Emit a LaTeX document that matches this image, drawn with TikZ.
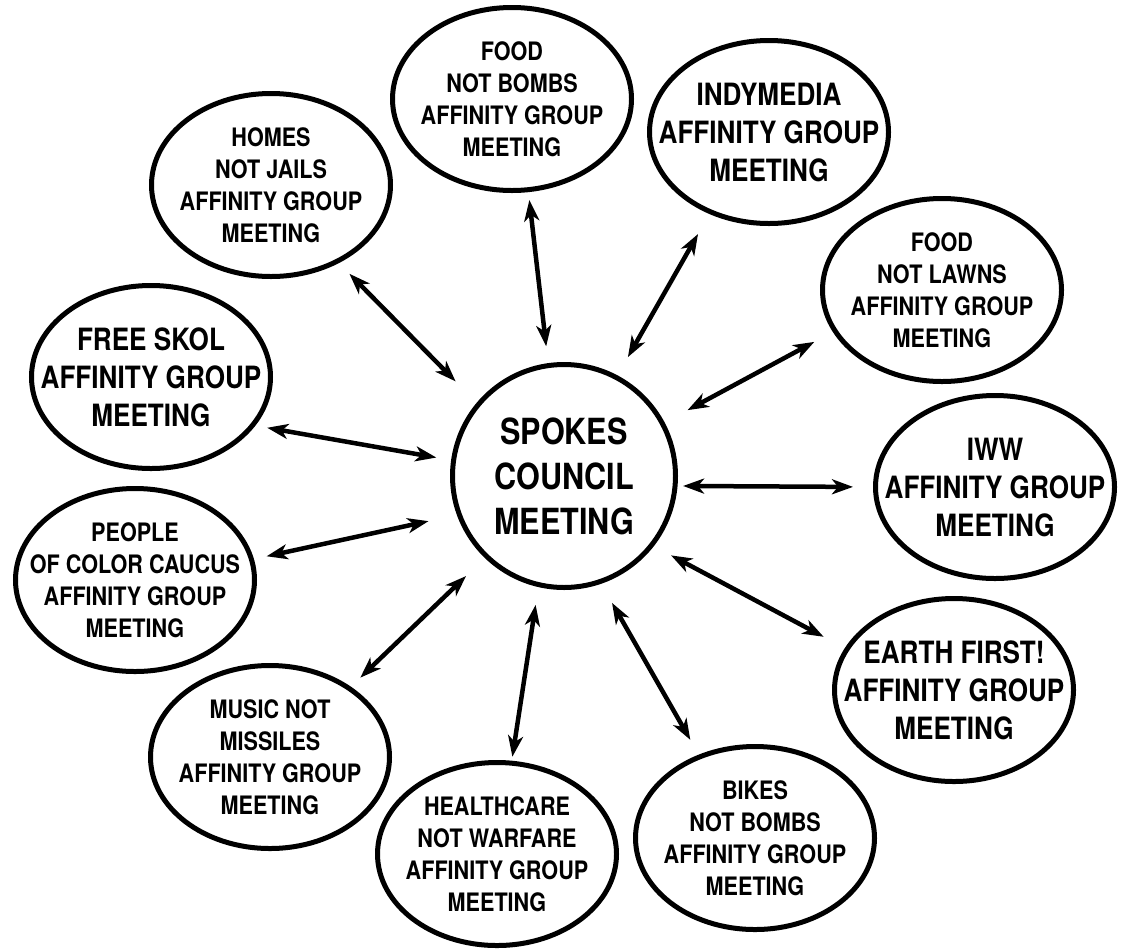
\documentclass[tikz,border=0pt]{standalone}
\usepackage{fontspec}
\setmainfont{TeX Gyre Heros}[FakeStretch=0.85]
\usetikzlibrary{shapes.geometric, arrows.meta}

\begin{document}
\begin{tikzpicture}[x=1pt, y=-1pt,
    group/.style={draw, ellipse, line width=5pt, minimum width=239pt, minimum height=183pt,
        inner xsep=-40pt, inner ysep=-20pt, align=center,
        font=\fontsize{25.4}{32}\selectfont\bfseries},
    biggroup/.style={group, font=\fontsize{30.7}{38}\selectfont\bfseries},
    council/.style={draw, circle, line width=5pt, minimum size=223pt, inner sep=0pt,
        align=center, font=\fontsize{36}{45}\selectfont\bfseries},
    spoke/.style={{Stealth[length=21pt, width=15pt, inset=6pt]}-{Stealth[length=21pt, width=15pt, inset=6pt]},
        line width=4.5pt}]
    % 固定画面大小
    \useasboundingbox (0,0) rectangle (1123,948);

    % 中心的 Spokes Council
    \node[council] (council) at (564,476) {SPOKES\\COUNCIL\\MEETING};

    % 四周的 Affinity Group
    \node[group] (homes) at (271,185) {HOMES\\NOT JAILS\\AFFINITY GROUP\\MEETING};
    \node[group] (food_bombs) at (512,99) {FOOD\\NOT BOMBS\\AFFINITY GROUP\\MEETING};
    \node[biggroup] (indymedia) at (769,132) {INDYMEDIA\\AFFINITY GROUP\\MEETING};
    \node[group] (food_lawns) at (942,290) {FOOD\\NOT LAWNS\\AFFINITY GROUP\\MEETING};
    \node[biggroup] (iww) at (995,487) {IWW\\AFFINITY GROUP\\MEETING};
    \node[biggroup] (earth_first) at (954,690) {EARTH FIRST!\\AFFINITY GROUP\\MEETING};
    \node[group] (bikes) at (755,838) {BIKES\\NOT BOMBS\\AFFINITY GROUP\\MEETING};
    \node[group] (healthcare) at (497,854) {HEALTHCARE\\NOT WARFARE\\AFFINITY GROUP\\MEETING};
    \node[group] (music) at (270,757) {MUSIC NOT\\MISSILES\\AFFINITY GROUP\\MEETING};
    \node[group] (people) at (135,580) {PEOPLE\\OF COLOR CAUCUS\\AFFINITY GROUP\\MEETING};
    \node[biggroup] (free_skol) at (151,377) {FREE SKOL\\AFFINITY GROUP\\MEETING};

    % 每个 Affinity Group 与 Spokes Council 之间的双向箭头
    \draw[spoke, shorten <=15pt, shorten >=30pt] (homes.-49) -- (council.140);
    \draw[spoke, shorten <=8pt, shorten >=17pt] (food_bombs.-80) -- (council.98);
    \draw[spoke, shorten <=23pt, shorten >=21pt] (indymedia.-126.5) -- (council.62);
    \draw[spoke, shorten <=21pt, shorten >=26pt] (food_lawns.-159) -- (council.28);
    \draw[spoke, shorten <=20pt, shorten >=5.5pt] (iww.180) -- (council.-5);
    \draw[spoke, shorten <=24pt, shorten >=19.5pt] (earth_first.159) -- (council.-38);
    \draw[spoke, shorten <=17pt, shorten >=22pt] (bikes.124) -- (council.-71);
    \draw[spoke, shorten <=4pt, shorten >=18pt] (healthcare.81) -- (council.-103);
    \draw[spoke, shorten <=13pt, shorten >=26pt] (music.41) -- (council.-134);
    \draw[spoke, shorten <=13pt, shorten >=29pt] (people.10) -- (council.200);
    \draw[spoke, shorten <=12pt, shorten >=15pt] (free_skol.-25) -- (council.172);
\end{tikzpicture}
\end{document}
